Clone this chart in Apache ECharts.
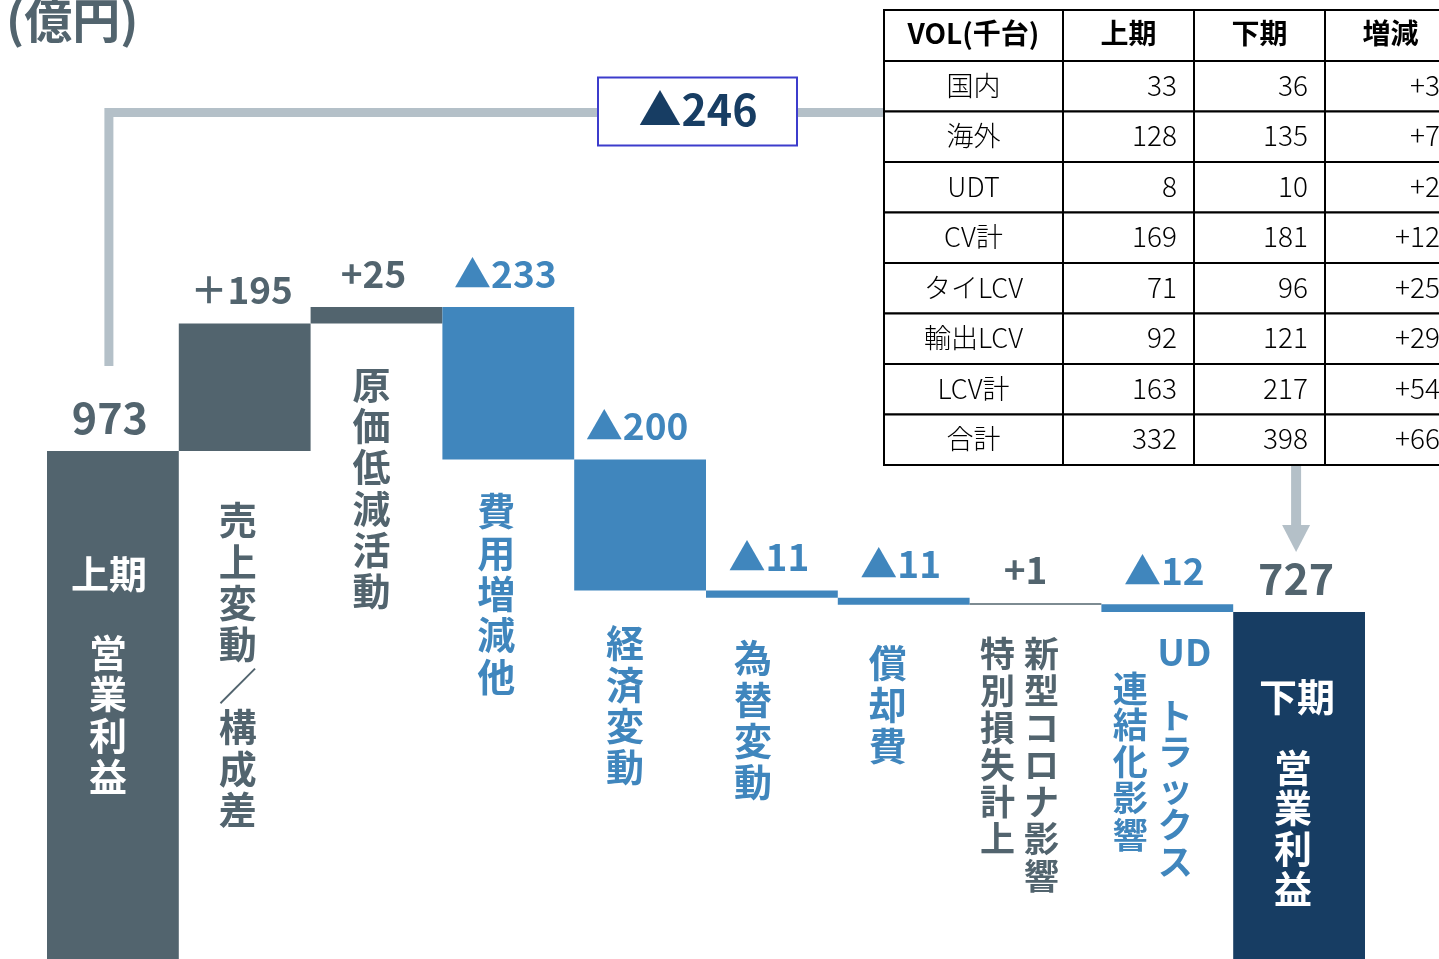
<!DOCTYPE html>
<html><head><meta charset="utf-8">
<script src="https://cdn.jsdelivr.net/npm/echarts@6/dist/echarts.min.js"></script>
<style>html,body{margin:0;padding:0;background:#fff;}#c{width:1439px;height:959px;}</style>
</head><body><div id="c"></div>
<script>
// ---- data ----
const categories = ['上期営業利益','売上変動／構成差','原価低減活動','費用増減他','経済変動','為替変動','償却費','新型コロナ影響／特別損失計上','UDトラックス連結化影響','下期営業利益'];
const changes = [973, 195, 25, -233, -200, -11, -11, 1, -12, 727];
const valueLabels = ['973','＋195','+25','▲233','▲200','▲11','▲11','+1','▲12','727'];
const totalChangeLabel = '▲246';
const unitLabel = '(億円)';
const tableHeader = ['VOL(千台)','上期','下期','増減'];
const tableRowLabels = ['国内','海外','UDT','CV計','タイLCV','輸出LCV','LCV計','合計'];
const firstHalfVol = [33, 128, 8, 169, 71, 92, 163, 332];
const secondHalfVol = [36, 135, 10, 181, 96, 121, 217, 398];
const volDiff = ['+3','+7','+2','+12','+25','+29','+54','+66'];

// ---- styles ----
const SLATE = '#52646e', BLUE = '#4086bd', NAVY = '#173d63', LIGHT = '#b4c0c8';
const FONT = '"Noto Sans CJK JP", "Noto Sans", sans-serif';
const barColors = [SLATE, SLATE, SLATE, BLUE, BLUE, BLUE, BLUE, SLATE, BLUE, NAVY];
const labelColors = [SLATE, SLATE, SLATE, BLUE, BLUE, BLUE, BLUE, SLATE, BLUE, SLATE];

// waterfall computation
const base = [], size = [];
let run = 0;
changes.forEach((d, i) => {
  if (i === 0 || i === changes.length - 1) { base.push(0); size.push(d); run = d; }
  else { const e = run + d; base.push(Math.min(run, e)); size.push(Math.abs(d)); run = e; }
});

const chart = echarts.init(document.getElementById('c'));
const option = {
  animation: false,
  grid: { left: 47, right: 74, top: 0, bottom: 0 },
  xAxis: { type: 'category', data: categories, show: false },
  yAxis: { type: 'value', min: 197, max: 1662, show: false },
  series: [
    { type: 'bar', stack: 'w', data: base, itemStyle: { color: 'transparent' }, barCategoryGap: '0%', silent: true },
    { type: 'bar', stack: 'w', barCategoryGap: '0%', barMinHeight: 1.5,
      data: size.map((v, i) => ({
        value: v,
        itemStyle: { color: barColors[i] },
        label: {
          show: true, position: 'top', distance: (i === 0 || i === 9) ? 12 : 15,
          formatter: valueLabels[i], color: labelColors[i],
          fontFamily: FONT, fontWeight: 'bold',
          fontSize: (i === 0 || i === 9) ? 43 : 37,
          offset: [i === 7 ? -10 : -3, 0]
        }
      }))
    }
  ]
};
chart.setOption(option);

// ---- graphics: category texts, table, connectors ----
const cx = i => chart.convertToPixel({ xAxisIndex: 0 }, i);
const g = [];
function vtext(x, top, str, color, fs, lh) {
  g.push({ type: 'text', z: 100, x: x, y: top,
    style: { text: Array.from(str).join('\n'), fill: color, font: `bold ${fs}px ${FONT}`,
      lineHeight: lh, align: 'center', verticalAlign: 'top' } });
}
function htext(x, y, str, color, fs, weight, align) {
  g.push({ type: 'text', z: 100, x: x, y: y,
    style: { text: str, fill: color, font: `${weight || 'bold'} ${fs}px ${FONT}`,
      align: align || 'center', verticalAlign: 'middle' } });
}
// bar 0
htext(cx(0) - 4, 574, '上期', '#fff', 38);
vtext(cx(0) - 5, 632, '営業利益', '#fff', 38, 41.3);
vtext(cx(1) - 7, 499, '売上変動／構成差', SLATE, 38, 41.4);
vtext(cx(2) - 5, 364, '原価低減活動', SLATE, 38, 41.2);
vtext(cx(3) - 12, 490, '費用増減他', BLUE, 38, 41.4);
vtext(cx(4) - 15, 622, '経済変動', BLUE, 38, 41.4);
vtext(cx(5) - 19, 637, '為替変動', BLUE, 38, 41.4);
vtext(cx(6) - 16, 642, '償却費', BLUE, 38, 41.4);
vtext(cx(7) + 6, 635, '新型コロナ影響', SLATE, 35, 37);
vtext(cx(7) - 38, 635, '特別損失計上', SLATE, 35, 37);
htext(cx(8) + 17, 652, 'UD', BLUE, 37);
vtext(cx(8) + 8, 697, 'トラックス', BLUE, 35, 36.5);
vtext(cx(8) - 37, 670, '連結化影響', BLUE, 35, 36.5);
htext(cx(9) - 2, 697, '下期', '#fff', 38);
vtext(cx(9) - 6, 747, '営業利益', '#fff', 38, 40.5);

// unit label
htext(6, 20, unitLabel, SLATE, 48, 'bold', 'left');

// connector from 上期 to table
g.push({ type: 'polyline', z: 50, shape: { points: [[cx(0) - 4, 366], [cx(0) - 4, 112.5], [884, 112.5]] },
  style: { stroke: LIGHT, lineWidth: 9, fill: null, lineJoin: 'miter', lineCap: 'butt' } });
// box
g.push({ type: 'rect', z: 60, shape: { x: 598, y: 77.5, width: 199, height: 68 },
  style: { fill: '#fff', stroke: '#3c3ccc', lineWidth: 2 } });
htext(698, 110, totalChangeLabel, NAVY, 43);
// arrow down to 下期
g.push({ type: 'line', z: 50, shape: { x1: cx(9) - 3, y1: 465, x2: cx(9) - 3, y2: 526 },
  style: { stroke: LIGHT, lineWidth: 10 } });
g.push({ type: 'polygon', z: 50, shape: { points: [[cx(9) - 17, 525], [cx(9) + 11, 525], [cx(9) - 3, 552]] },
  style: { fill: LIGHT } });

// table
const colX = [884, 1063, 1194, 1325, 1456];
const rowY = [10, 61];
for (let r = 1; r <= tableRowLabels.length; r++) rowY.push(61 + 50.5 * r);
for (let r = 0; r < rowY.length - 1; r++) {
  for (let c = 0; c < 4; c++) {
    g.push({ type: 'rect', z: 70, shape: { x: colX[c], y: rowY[r], width: colX[c + 1] - colX[c], height: rowY[r + 1] - rowY[r] },
      style: { fill: '#fff', stroke: '#000', lineWidth: 2 } });
  }
}
tableHeader.forEach((h, c) => htext((colX[c] + colX[c + 1]) / 2, (rowY[0] + rowY[1]) / 2 - 2, h, '#000', 28, 'bold'));
tableRowLabels.forEach((lab, r) => {
  const y = (rowY[r + 1] + rowY[r + 2]) / 2 - 1;
  htext((colX[0] + colX[1]) / 2, y, lab, '#000', 27, 300);
  htext(colX[2] - 17, y, String(firstHalfVol[r]), '#000', 28, 300, 'right');
  htext(colX[3] - 17, y, String(secondHalfVol[r]), '#000', 28, 300, 'right');
  htext(colX[4] - 16, y, volDiff[r], '#000', 28, 300, 'right');
});

chart.setOption({ graphic: { elements: g } });
</script></body></html>
